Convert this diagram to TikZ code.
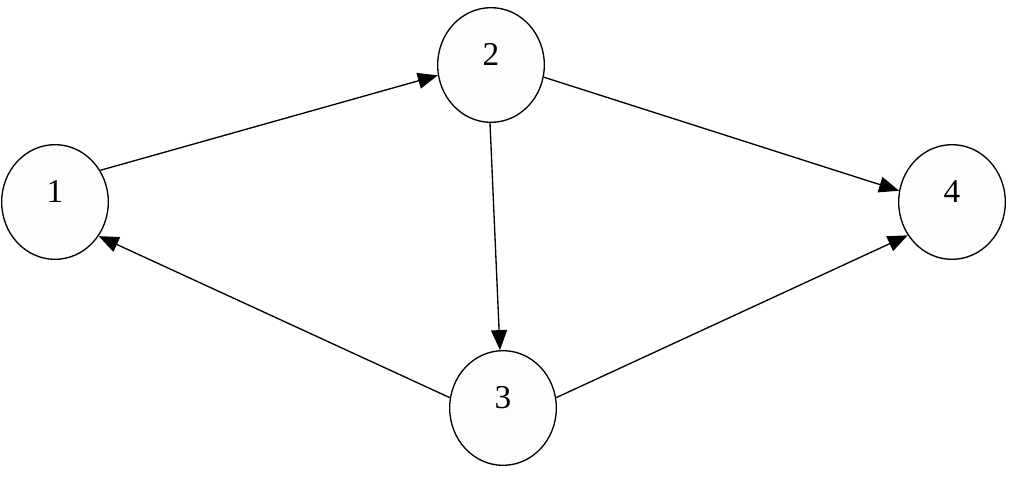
\documentclass[tikz,border=0pt]{standalone}
\usepackage{fontspec}
\setmainfont{Liberation Serif}
\usetikzlibrary{shapes}
\usetikzlibrary{arrows.meta}

\tikzset{
  vertex/.style={ellipse, draw, line width=1pt, fill={rgb,255:red,253;green,253;blue,253},
    minimum width=80pt, minimum height=86pt, inner sep=0pt,
    text height=12pt, text depth=12pt, font=\fontsize{25}{30}\selectfont},
  edge/.style={line width=1pt, -{Triangle[length=15pt,width=12pt]}}
}

\begin{document}
\begin{tikzpicture}[x=0.75pt,y=0.75pt,yscale=-1,xscale=1]
\useasboundingbox (0,0) rectangle (1024,485);

% Vertices
\node [vertex] (v1) at (55,202) {1};
\node [vertex] (v2) at (491,65) {2};
\node [vertex] (v3) at (503,408) {3};
\node [vertex] (v4) at (952,202) {4};

% Edges
\draw [edge] (v1.35) -- (v2.191);
\draw [edge] (v2.347) -- (v4.168);
\draw [edge] (v2.269) -- (v3.93);
\draw [edge] (v3.169) -- (v1.322);
\draw [edge] (v3.11) -- (v4.217);

\end{tikzpicture}
\end{document}
